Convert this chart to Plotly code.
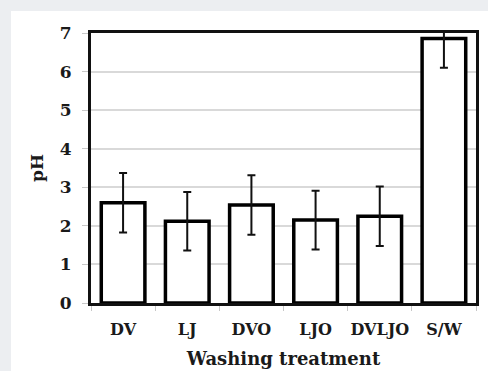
import plotly.graph_objects as go

categories = ["DV", "LJ", "DVO", "LJO", "DVLJO", "S/W"]
ph_values = [2.60, 2.12, 2.54, 2.15, 2.25, 6.86]
ph_errors = [0.77, 0.76, 0.77, 0.76, 0.77, 0.76]
y_ticks = [0, 1, 2, 3, 4, 5, 6, 7]

FONT = "DejaVu Serif"

fig = go.Figure()
fig.add_trace(go.Bar(
    x=categories, y=ph_values,
    width=0.68,
    marker=dict(color="white", line=dict(color="black", width=3.5)),
    error_y=dict(type="data", array=ph_errors, visible=True,
                 color="#111111", thickness=2, width=4),
))

L, R, T, B = 91, 12, 33, 68
W, H = 488, 371
pw, ph = W - L - R, H - T - B

fig.add_shape(type="rect", xref="paper", yref="paper",
              x0=(11 - L) / pw, x1=(W - L) / pw + 0.01,
              y0=(T + ph - H) / ph - 0.01, y1=(T + ph - 11) / ph,
              fillcolor="white", line=dict(width=0), layer="below")

fig.update_layout(
    width=W, height=H,
    margin=dict(l=L, r=R, t=T, b=B),
    paper_bgcolor="#eceef1",
    plot_bgcolor="white",
    showlegend=False,
    font=dict(family=FONT, color="#1a1a1a", size=16, weight="bold"),
    bargap=0.32,
)
fig.update_xaxes(
    automargin=False, tickangle=0,
    showline=True, linecolor="#111111", linewidth=3, mirror=True,
    ticks="outside", tickson="boundaries", ticklen=5, tickcolor="#c8c8c8",
    ticklabelstandoff=10,
    tickfont=dict(family=FONT, size=16, weight="bold"),
    title=dict(text="Washing treatment", font=dict(family=FONT, size=18, weight="bold"), standoff=15),
)
fig.update_yaxes(
    automargin=False,
    range=[0, 7], tickvals=y_ticks,
    showline=True, linecolor="#111111", linewidth=3, mirror=True,
    showgrid=True, gridcolor="#d9d9d9", gridwidth=1.5,
    ticks="outside", ticklen=6, tickcolor="#c8c8c8",
    ticklabelstandoff=7,
    tickfont=dict(family=FONT, size=17, weight="bold"),
    title=dict(text="pH", font=dict(family=FONT, size=17, weight="bold"), standoff=12),
    zeroline=False,
)

fig.write_html("out.html",
               config={"displayModeBar": False},
               post_script="document.body.style.margin='0';document.body.style.overflow='hidden';"
                           "document.body.style.background='#eceef1';")
